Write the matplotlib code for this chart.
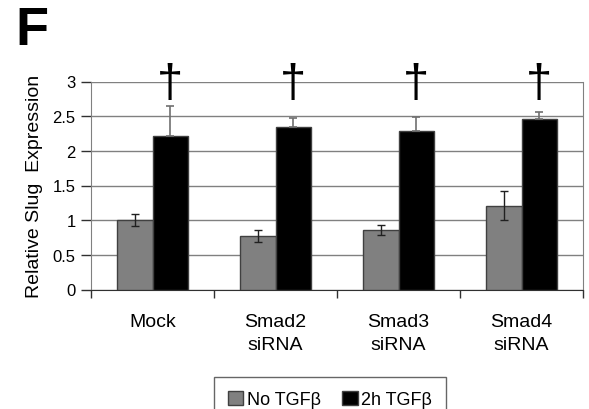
import matplotlib
matplotlib.use("Agg")
import matplotlib.pyplot as plt
import numpy as np

plt.rcParams['font.family'] = ['Liberation Sans', 'DejaVu Sans']

categories = ["Mock", "Smad2\nsiRNA", "Smad3\nsiRNA", "Smad4\nsiRNA"]
no_tgf = [1.00, 0.77, 0.86, 1.21]
no_tgf_err = [0.085, 0.09, 0.07, 0.21]
tgf_2h = [2.22, 2.35, 2.28, 2.46]
tgf_2h_err = [0.43, 0.12, 0.21, 0.10]
series_names = ["No TGF\u03b2", "2h TGF\u03b2"]
yticks = [0, 0.5, 1, 1.5, 2, 2.5, 3]
yticklabels = ["0", "0.5", "1", "1.5", "2", "2.5", "3"]

fig = plt.figure(figsize=(5.89, 4.10), dpi=100)
ax = fig.add_axes([91/589, 1 - 290.5/410, 492/589, 208/410])

x = np.arange(len(categories))
w = 0.29
ax.bar(x - w/2, no_tgf, w, color="#808080", edgecolor="#404040", linewidth=1,
       yerr=no_tgf_err, error_kw=dict(ecolor="#202020", elinewidth=1, capsize=3, capthick=1),
       label=series_names[0], zorder=3)
# only the upper half of the error bar shows above the black bars
ax.bar(x + w/2, tgf_2h, w, color="black", edgecolor="#404040", linewidth=1,
       yerr=[[0] * len(tgf_2h_err), tgf_2h_err],
       error_kw=dict(ecolor="#707070", elinewidth=1.2, capsize=3, capthick=1.2),
       label=series_names[1], zorder=3)

# daggers above the TGFb bars
for xi in x:
    ax.text(xi + w/2, 2.96, "\u2020", ha="center", va="center", fontsize=34,
            clip_on=False)

ax.set_xlim(-0.5, len(categories) - 0.5)
ax.set_ylim(0, 3)
ax.set_yticks(yticks)
ax.set_yticklabels(yticklabels, fontsize=12)
ax.yaxis.grid(True, color="#808080", linewidth=1)
ax.set_axisbelow(True)

ax.set_xticks(x)
ax.set_xticklabels(categories, fontsize=14, linespacing=1.45, va="top")
ax.set_xticks(np.arange(len(categories) + 1) - 0.5, minor=True)
ax.tick_params(axis="x", which="major", length=0, pad=17)
ax.tick_params(axis="x", which="minor", length=6, width=1, color="#303030", direction="out")
ax.tick_params(axis="y", length=7, width=1, color="#303030", pad=4)

ax.spines["top"].set_visible(False)
ax.spines["right"].set_color("#808080")
ax.spines["left"].set_color("#808080")
ax.spines["bottom"].set_color("#303030")

ax.set_ylabel("Relative Slug  Expression", fontsize=14, labelpad=7)

fig.text(15/589, 1 - 6/410, "F", fontsize=39, fontweight="bold", va="top", ha="left")

leg = fig.legend(loc="center", bbox_to_anchor=(330/589, 1 - 400.5/410), ncol=2,
                 fontsize=13, frameon=True, fancybox=False, edgecolor="#404040",
                 handlelength=0.85, handleheight=0.85, handletextpad=0.2,
                 columnspacing=1.2, borderpad=0.75)
leg.get_frame().set_linewidth(1)

fig.savefig("out.png", dpi=100)
